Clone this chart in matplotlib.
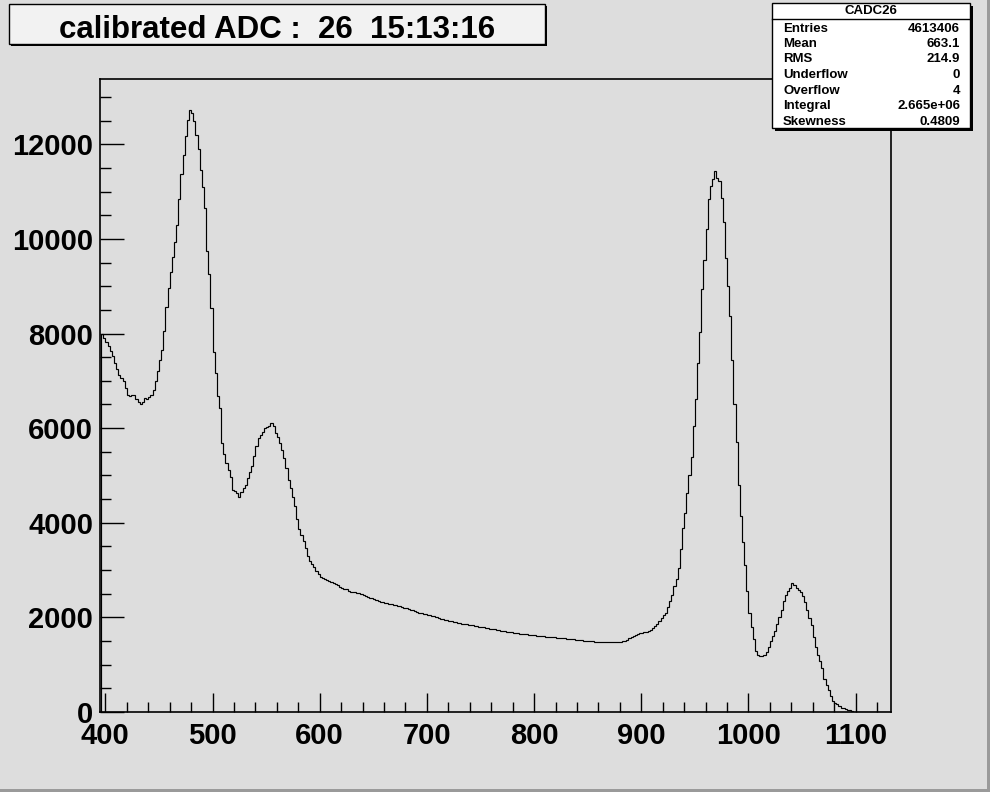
import numpy as np
import matplotlib
matplotlib.use("Agg")
import matplotlib.pyplot as plt
from matplotlib.patches import Rectangle
from matplotlib.lines import Line2D
from matplotlib.ticker import MultipleLocator

plt.rcParams['font.family'] = ['Liberation Sans', 'DejaVu Sans']

# ---------------- data ----------------
bin_low = 396
bin_width = 2
counts = [
    7990, 7900, 7830, 7730, 7630, 7520, 7380, 7240, 7130, 7060,        # 397-415
    6990, 6850, 6690, 6680, 6700, 6690, 6620, 6560, 6500, 6560,        # 417-435
    6640, 6620, 6650, 6700, 6800, 6990, 7200, 7450, 7660, 8050,        # 437-455
    8560, 8970, 9300, 9620, 9940, 10300, 10840, 11380, 11780, 12170,   # 457-475
    12520, 12720, 12670, 12490, 12200, 11900, 11450, 11100, 10650, 9740,  # 477-495
    9250, 8550, 7600, 7170, 6680, 6420, 5690, 5450, 5260, 5120,        # 497-515
    4970, 4700, 4680, 4620, 4550, 4650, 4730, 4800, 4940, 5070,        # 517-535
    5190, 5420, 5620, 5790, 5850, 5910, 6010, 6030, 6050, 6100,        # 537-555
    6040, 5900, 5810, 5690, 5540, 5360, 5150, 4910, 4730, 4550,        # 557-575
    4360, 4080, 3870, 3750, 3620, 3470, 3300, 3190, 3130, 3070,        # 577-595
    2990, 2920, 2860, 2840, 2810, 2790, 2770, 2750, 2730, 2700,        # 597-615
    2680, 2650, 2630, 2610, 2590, 2560, 2540, 2540, 2530, 2520,        # 617-635
    2520, 2500, 2480, 2450, 2430, 2410, 2400, 2380, 2360, 2340,        # 637-655
    2330, 2320, 2310, 2300, 2290, 2280, 2270, 2260, 2250, 2240,        # 657-675
    2220, 2200, 2190, 2170, 2160, 2150, 2130, 2120, 2100, 2090,        # 677-695
    2080, 2070, 2060, 2050, 2030, 2020, 2000, 1990, 1970, 1960,        # 697-715
    1950, 1940, 1930, 1920, 1910, 1900, 1890, 1880, 1870, 1860,        # 717-735
    1855, 1845, 1835, 1830, 1820, 1810, 1805, 1795, 1790, 1780,        # 737-755
    1770, 1760, 1755, 1745, 1740, 1730, 1720, 1715, 1710, 1700,        # 757-775
    1690, 1685, 1680, 1670, 1660, 1655, 1650, 1645, 1640, 1635,        # 777-795
    1630, 1625, 1620, 1615, 1610, 1605, 1600, 1595, 1590, 1585,        # 797-815
    1580, 1575, 1570, 1570, 1565, 1560, 1555, 1550, 1545, 1540,        # 817-835
    1535, 1530, 1525, 1520, 1515, 1510, 1505, 1500, 1500, 1495,        # 837-855
    1490, 1485, 1480, 1480, 1475, 1475, 1470, 1470, 1475, 1475,        # 857-875
    1480, 1480, 1485, 1495, 1510, 1530, 1560, 1580, 1600, 1620,        # 877-895
    1640, 1660, 1670, 1690, 1700, 1720, 1740, 1770, 1810, 1860,        # 897-915
    1920, 1980, 2040, 2100, 2220, 2350, 2470, 2670, 2820, 3050,        # 917-935
    3450, 3880, 4200, 4620, 5010, 5400, 6050, 6620, 7380, 8040,        # 937-955
    8950, 9550, 10200, 10840, 11120, 11260, 11430, 11280, 11220, 10860,  # 957-975
    10350, 9600, 9000, 8380, 7450, 6500, 5700, 4790, 4150, 3600,       # 977-995
    3100, 2550, 2100, 1800, 1540, 1290, 1200, 1180, 1185, 1200,        # 997-1015
    1270, 1370, 1500, 1600, 1720, 1870, 2010, 2150, 2350, 2480,        # 1017-1035
    2560, 2630, 2720, 2680, 2630, 2570, 2530, 2450, 2330, 2150,        # 1037-1055
    1990, 1840, 1590, 1380, 1200, 1080, 920, 700, 580, 470,            # 1057-1075
    330, 240, 190, 160, 120, 85, 75, 62, 50, 35,                       # 1077-1095
    20, 8, 0, 0, 0, 0, 0, 0, 0, 0,                                     # 1097-1115
    0, 0, 0, 0, 0, 0, 0, 0,                                            # 1117-1131
]
edges = bin_low + bin_width * np.arange(len(counts) + 1)

title_text = "calibrated ADC :  26  15:13:16"
stats_name = "CADC26"
stats_labels = ["Entries", "Mean", "RMS", "Underflow", "Overflow", "Integral", "Skewness"]
stats_values = ["4613406", "663.1", "214.9", "0", "4", "2.665e+06", "0.4809"]

x_range = (395, 1133)
y_range = (0, 13380)
x_major, x_minor = 100, 20
y_major, y_minor = 2000, 500

# ---------------- figure ----------------
W, H = 990, 792
bg = '#dddddd'
fig = plt.figure(figsize=(W / 100, H / 100), dpi=100, facecolor=bg)

def fx(px):
    return px / W

def fy(py):
    return 1 - py / H

ax = fig.add_axes([fx(100), fy(712), fx(891) - fx(100), fy(79) - fy(712)])
ax.set_facecolor(bg)
ax.stairs(counts, edges, color='black', lw=0.85)
ax.set_xlim(*x_range)
ax.set_ylim(*y_range)

for s in ax.spines.values():
    s.set_linewidth(1.2)
    s.set_color('black')

ax.xaxis.set_major_locator(MultipleLocator(x_major))
ax.xaxis.set_minor_locator(MultipleLocator(x_minor))
ax.yaxis.set_major_locator(MultipleLocator(y_major))
ax.yaxis.set_minor_locator(MultipleLocator(y_minor))

ax.tick_params(axis='x', which='major', direction='in', length=14, width=1,
               top=False, pad=7, labelsize=21)
ax.tick_params(axis='x', which='minor', direction='in', length=7, width=1, top=False)
ax.tick_params(axis='y', which='major', direction='in', length=17, width=1,
               right=False, pad=5, labelsize=21)
ax.tick_params(axis='y', which='minor', direction='in', length=8, width=1, right=False)
for lab in ax.get_xticklabels() + ax.get_yticklabels():
    lab.set_fontweight('bold')

# ---------------- title box ----------------
tx0, tx1, ty0, ty1 = 9, 545, 4, 44
fig.patches.append(Rectangle((fx(tx0 + 2), fy(ty1 + 2)), fx(tx1 - tx0), fy(ty0) - fy(ty1),
                             transform=fig.transFigure, facecolor='black',
                             edgecolor='none', zorder=5))
fig.patches.append(Rectangle((fx(tx0), fy(ty1)), fx(tx1 - tx0), fy(ty0) - fy(ty1),
                             transform=fig.transFigure, facecolor='#f2f2f2',
                             edgecolor='black', lw=1, zorder=6))
fig.text(fx(277), fy(38.5), title_text, ha='center', va='baseline',
         fontsize=22.5, fontweight='bold', zorder=7)

# ---------------- stats box ----------------
sx0, sx1, sy0, sy1 = 772, 970, 3, 128
fig.patches.append(Rectangle((fx(sx0 + 3), fy(sy1 + 3)), fx(sx1 - sx0), fy(sy0) - fy(sy1),
                             transform=fig.transFigure, facecolor='black',
                             edgecolor='none', zorder=5))
fig.patches.append(Rectangle((fx(sx0), fy(sy1)), fx(sx1 - sx0), fy(sy0) - fy(sy1),
                             transform=fig.transFigure, facecolor='white',
                             edgecolor='black', lw=1, zorder=6))
fig.lines.append(Line2D([fx(sx0), fx(sx1)], [fy(19), fy(19)], transform=fig.transFigure,
                        color='black', lw=1, zorder=7))
fig.text(fx((sx0 + sx1) / 2), fy(11.5), stats_name, ha='center', va='center',
         fontsize=9.5, fontweight='bold', zorder=7)
row_y = [29, 44, 59.5, 75.5, 91, 106, 122]
for lab, val, yy in zip(stats_labels, stats_values, row_y):
    fig.text(fx(783), fy(yy), lab, ha='left', va='center', fontsize=9.5,
             fontweight='bold', zorder=7)
    fig.text(fx(960), fy(yy), val, ha='right', va='center', fontsize=9.5,
             fontweight='bold', zorder=7)

# ---------------- canvas bevel ----------------
fig.patches.append(Rectangle((fx(0), fy(792)), fx(990), fy(789) - fy(792),
                             transform=fig.transFigure, facecolor='#9a9a9a',
                             edgecolor='none', zorder=8))
fig.patches.append(Rectangle((fx(987), fy(792)), fx(3), 1,
                             transform=fig.transFigure, facecolor='#9a9a9a',
                             edgecolor='none', zorder=8))

fig.savefig('out.png', dpi=100, facecolor=bg)
